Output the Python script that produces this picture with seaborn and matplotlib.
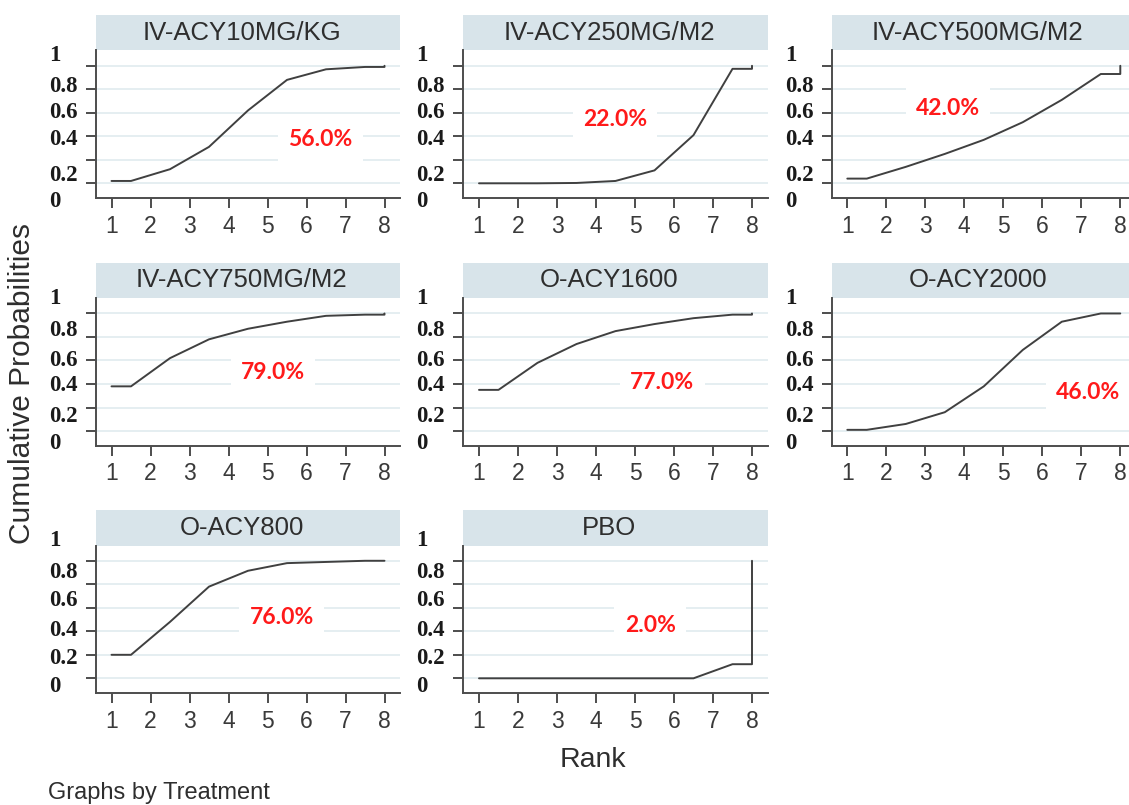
import numpy as np
import pandas as pd
import matplotlib
matplotlib.use("Agg")
import matplotlib.pyplot as plt
from matplotlib.patches import Rectangle
from matplotlib.transforms import blended_transform_factory
import seaborn as sns

# ---- data -----------------------------------------------------------------
treatments = ["IV-ACY10MG/KG", "IV-ACY250MG/M2", "IV-ACY500MG/M2",
              "IV-ACY750MG/M2", "O-ACY1600", "O-ACY2000",
              "O-ACY800", "PBO"]

# cumulative probability of ranking within the first k places, k = 1..7
cum_iv10 = [0.02, 0.12, 0.31, 0.62, 0.88, 0.97, 0.99]
cum_iv250 = [0.0, 0.0, 0.003, 0.02, 0.11, 0.41, 0.974]
cum_iv500 = [0.04, 0.14, 0.25, 0.37, 0.52, 0.71, 0.93]
cum_iv750 = [0.38, 0.62, 0.78, 0.87, 0.93, 0.98, 0.99]
cum_o1600 = [0.35, 0.58, 0.74, 0.85, 0.91, 0.96, 0.99]
cum_o2000 = [0.01, 0.06, 0.16, 0.38, 0.69, 0.93, 1.0]
cum_o800 = [0.20, 0.48, 0.78, 0.915, 0.98, 0.99, 1.0]
cum_pbo = [0.0, 0.0, 0.0, 0.0, 0.0, 0.0, 0.12]
cum_last = 1.0  # every treatment is within rank 8 with certainty

sucra = [56.0, 22.0, 42.0, 79.0, 77.0, 46.0, 76.0, 2.0]

# rank positions at which the cumulative curve is drawn
rank_pos = [1, 1.5, 2.5, 3.5, 4.5, 5.5, 6.5, 7.5, 8, 8]
rank_ticks = [1, 2, 3, 4, 5, 6, 7, 8]
prob_ticks = [0, 0.2, 0.4, 0.6, 0.8, 1.0]
prob_tick_text = ["1", "0.8", "0.6", "0.4", "0.2", "0"]

cum_all = [cum_iv10, cum_iv250, cum_iv500, cum_iv750,
           cum_o1600, cum_o2000, cum_o800, cum_pbo]

rows = []
for name, c in zip(treatments, cum_all):
    ys = [c[0]] + list(c) + [c[-1], cum_last]
    for order, (x, y) in enumerate(zip(rank_pos, ys)):
        rows.append({"Treatment": name, "Rank": x, "Prob": y, "order": order})
df = pd.DataFrame(rows)

# ---- style ----------------------------------------------------------------
sns.set_style("white")
plt.rcParams["font.family"] = ["Liberation Sans", "DejaVu Sans"]

LINE_C = "#404040"
AX_C = "#4d4d4d"
GRID_C = "#e3edf0"
STRIP_C = "#d8e4ea"
TEXT_C = "#2e2e2e"

fig = plt.figure(figsize=(11.29, 8.05), dpi=100)
W, H = 1129.0, 805.0

col_left = [95.9, 463.4, 831.7]          # px from left
row_bottom = [198.0, 445.7, 693.0]       # px from top
ax_w, ax_h = 304.2, 147.5
strip_h = 35.5

# placement of the y-axis value texts (per row, in data units)
ylab_pos = [
    [1.09, 0.82, 0.60, 0.375, 0.07, -0.157],
    [1.127, 0.858, 0.603, 0.39, 0.12, -0.105],
    [1.169, 0.90, 0.66, 0.41, 0.17, -0.07],
]
# placement of the SUCRA texts (rank, probability)
sucra_xy = [(6.35, 0.37), (4.49, 0.54), (3.58, 0.64),
            (5.14, 0.50), (5.70, 0.41), (7.18, 0.33),
            (5.37, 0.52), (5.39, 0.45)]

for i, name in enumerate(treatments):
    r, c = divmod(i, 3)
    ax = fig.add_axes([col_left[c] / W, 1 - row_bottom[r] / H,
                       ax_w / W, ax_h / H])
    sub = df[df["Treatment"] == name].sort_values("order")
    sns.lineplot(data=sub, x="Rank", y="Prob", ax=ax, sort=False,
                 estimator=None, color=LINE_C, linewidth=1.4, zorder=3)

    ax.set_xlim(0.6, 8.4)
    ax.set_ylim(-0.125, 1.13)
    ax.set_xticks(rank_ticks)
    ax.set_xticklabels([str(t) for t in rank_ticks])
    ax.set_yticks(prob_ticks)
    ax.set_yticklabels([])
    ax.set_xlabel("")
    ax.set_ylabel("")

    ax.grid(axis="y", color=GRID_C, linewidth=1.3)
    ax.grid(axis="x", visible=False)
    ax.set_axisbelow(True)
    for side in ("top", "right"):
        ax.spines[side].set_visible(False)
    for side in ("left", "bottom"):
        ax.spines[side].set_color(AX_C)
        ax.spines[side].set_linewidth(1.4)
    ax.tick_params(axis="both", direction="out", length=7, width=1.4,
                   color=AX_C, left=True, bottom=True)
    ax.tick_params(axis="x", labelsize=16.5, labelcolor="#3a3a3a", pad=5)

    # value texts along the y axis
    tr = blended_transform_factory(ax.transAxes, ax.transData)
    for txt, yp in zip(prob_tick_text, ylab_pos[r]):
        ax.text(-47 / ax_w, yp, txt, transform=tr, ha="left", va="center",
                fontsize=16.5, fontweight="bold", color="#1a1a1a",
                family=["Liberation Serif", "DejaVu Serif"], clip_on=False)

    # panel header strip
    ax.add_patch(Rectangle((0, 1.0), 1, strip_h / ax_h,
                           transform=ax.transAxes, facecolor=STRIP_C,
                           edgecolor="none", clip_on=False, zorder=1))
    ax.text(0.48, 1 + strip_h / ax_h / 2, name, transform=ax.transAxes,
            ha="center", va="center", fontsize=18.5, color=TEXT_C)

    # SUCRA value
    sx, sy = sucra_xy[i]
    ax.text(sx, sy, f"{sucra[i]:.1f}%", ha="center", va="center",
            fontsize=16.5, fontweight="bold", color="#ff1a1a",
            family=["Lato", "DejaVu Sans"], zorder=2,
            bbox=dict(facecolor="white", edgecolor="none",
                      boxstyle="square,pad=0.45"))

fig.text(22 / W, 1 - 383 / H, "Cumulative Probabilities", rotation=90,
         ha="center", va="center", fontsize=21.5, color=TEXT_C)
fig.text(593 / W, 1 - 760 / H, "Rank", ha="center", va="center",
         fontsize=20.5, color=TEXT_C)
fig.text(48 / W, 1 - 793 / H, "Graphs by Treatment", ha="left",
         va="center", fontsize=17, color=TEXT_C)

fig.savefig("out.png", dpi=100, facecolor="white")
